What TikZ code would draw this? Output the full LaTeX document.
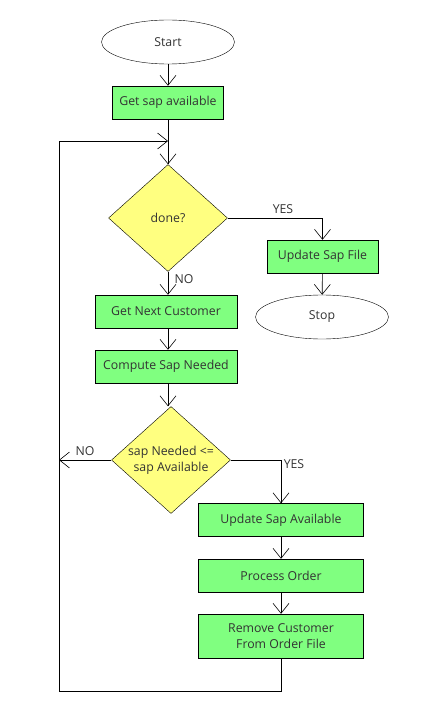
\documentclass[tikz,border=0pt]{standalone}
\usepackage{fontspec}
\setmainfont{Open Sans}
\usetikzlibrary{shapes.geometric,arrows.meta}
\definecolor{boxgreen}{HTML}{80FF80}
\definecolor{decyellow}{HTML}{FFFF80}
\definecolor{txtgray}{HTML}{333333}
\tikzset{
    procbox/.style={draw, fill=boxgreen, minimum width=111pt, minimum height=33pt, inner sep=1pt, text=txtgray, align=center, font=\fontsize{12.3}{16}\selectfont},
    termnode/.style={draw, ellipse, minimum width=133pt, minimum height=44pt, inner sep=0pt, text=txtgray, font=\fontsize{12.3}{16}\selectfont},
    decnode/.style={draw, diamond, fill=decyellow, minimum width=119pt, minimum height=107pt, inner sep=-6pt, text=txtgray, align=center, font=\fontsize{12.3}{16}\selectfont},
    flow/.style={semithick, -{Straight Barb[length=10pt,width=16pt]}},
    lbl/.style={text=txtgray, font=\fontsize{12.3}{15}\selectfont}
}
\begin{document}
\begin{tikzpicture}[x=1pt,y=-1pt]
            \useasboundingbox (0,0) rectangle (430,708);

            % top column
            \node[termnode] (start) at (168,42) {Start};
            \node[procbox] (getsap) at (168,102.5) {Get sap available};
            \coordinate (join) at (168,141);
            \node[decnode] (done) at (168,218) {done?};
            \node[procbox, minimum width=142pt] (nextcust) at (166,311.5) {Get Next Customer};
            \node[procbox, minimum width=142pt] (compute) at (166,366.5) {Compute Sap Needed};
            \node[decnode] (sapcheck) at (171,460) {sap Needed <=\\sap Available};

            % yes branch of done?
            \node[procbox] (updfile) at (322.5,256.5) {Update Sap File};
            \node[termnode] (stop) at (322,317) {Stop};

            % yes branch of sapcheck
            \node[procbox, minimum width=165pt] (updavail) at (281,520) {Update Sap Available};
            \node[procbox, minimum width=165pt] (procorder) at (281,575.5) {Process Order};
            \node[procbox, minimum width=165pt, minimum height=44pt] (remcust) at (281,636) {Remove Customer\\From Order File};

            \coordinate (loopbot) at (281,691);
            \coordinate (loopleft) at (59,691);
            \coordinate (looptop) at (59,141);
            \coordinate (noend) at (59,460);

            \draw[flow] (start) -- (getsap);
            \draw[flow] (getsap) -- (done);
            \draw[flow] (done.east) -| (updfile.north);
            \node[lbl] at (283,209) {YES};
            \draw[flow] (updfile) -- (stop);
            \draw[flow] (done.south) -- (nextcust.north -| done.south);
            \node[lbl] at (184,279) {NO};
            \draw[flow] (nextcust.south -| done.south) -- (compute.north -| done.south);
            \draw[flow] (compute.south -| done.south) -- (sapcheck.north -| done.south);

            \draw[flow] (sapcheck.west) -- (noend);
            \node[lbl] at (85,451) {NO};
            \draw[flow] (sapcheck.east) -| (updavail.north);
            \node[lbl] at (294,464) {YES};
            \draw[flow] (updavail) -- (procorder);
            \draw[flow] (procorder) -- (remcust);

            % loop back
            \draw[flow] (remcust.south) -- (loopbot) -- (loopleft) -- (looptop) -- (join);
        \end{tikzpicture}
\end{document}
